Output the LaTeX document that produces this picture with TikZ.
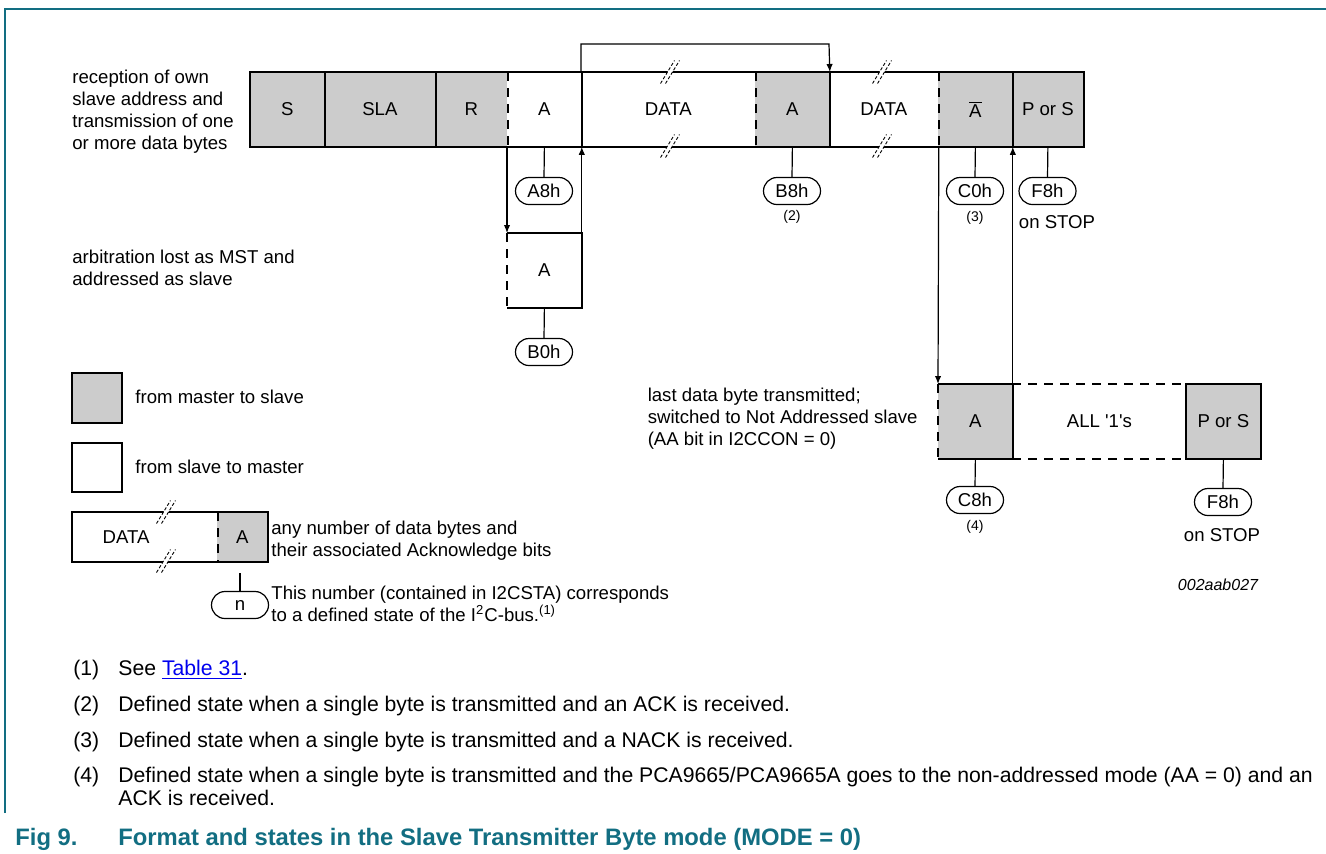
\documentclass[tikz,border=0pt]{standalone}
\usepackage{fontspec}
\setmainfont{Liberation Sans}
\usetikzlibrary{arrows.meta,shapes.misc}
\definecolor{boxgray}{RGB}{204,204,204}
\definecolor{nxpteal}{RGB}{18,110,130}
\definecolor{linkblue}{RGB}{0,0,238}
\newcommand{\sqt}{\XeTeXglyph\XeTeXcharglyph"0027\relax}
\newcommand{\brkmark}[2]{%
  \fill[white] ({#1-9.5},{#2+11.5}) -- ({#1+4.5},{#2-11.5}) -- ({#1+9.5},{#2-11.5}) -- ({#1-4.5},{#2+11.5}) -- cycle;
  \draw[brk] ({#1-9.5},{#2+11.5}) -- ({#1+4.5},{#2-11.5});
  \draw[brk] ({#1-4.5},{#2+11.5}) -- ({#1+9.5},{#2-11.5});
}
\begin{document}
\begin{tikzpicture}[x=0.5pt,y=-0.5pt, font=\fontsize{9.3}{11}\selectfont,
 cell/.style={rectangle, inner sep=0pt, minimum height=37pt, anchor=north west},
 gcell/.style={cell, fill=boxgray},
 wcell/.style={cell, fill=white},
 bord/.style={line width=1.3pt},
 dsh/.style={line width=1.3pt, dash pattern=on 4.5pt off 3.5pt},
 thinl/.style={line width=0.6pt},
 arr/.style={line width=0.6pt, -{Latex[length=4pt,width=3.2pt]}},
 pill/.style={rounded rectangle, draw, line width=0.6pt, minimum width=28.5pt, minimum height=13.5pt, inner sep=0pt},
 note/.style={font=\fontsize{7}{8}\selectfont, inner sep=0pt},
 lbl/.style={align=left, inner sep=0pt},
 brk/.style={line width=0.45pt, dash pattern=on 1.6pt off 1pt},
 fn/.style={font=\fontsize{10.6}{11.6}\selectfont, inner sep=0pt, anchor=base west},
 captxt/.style={font=\fontsize{11.9}{13}\selectfont\bfseries, text=nxpteal, inner sep=0pt, anchor=base west},
]
\useasboundingbox (0,0) rectangle (1326,853);
% frame
\draw[nxpteal, line width=0.8pt] (5,813) -- (5,9) -- (1326,9);

% ---- top row
\node[gcell, minimum width=37pt] (s) at (250,72) {S};
\node[gcell, minimum width=55.5pt] (sla) at (324,72) {SLA};
\node[gcell, minimum width=36pt] (r) at (435,72) {R};
\node[wcell, minimum width=37pt] (a) at (507,72) {A};
\node[wcell, minimum width=87pt] (data) at (581,72) {DATA};
\node[gcell, minimum width=37pt] (a2) at (755,72) {A};
\node[wcell, minimum width=54.5pt] (data2) at (829,72) {DATA};
\node[gcell, minimum width=37pt] (abar) at (938,72) {$\overline{\hbox{A}}$};
\node[gcell, minimum width=35.5pt] (pors) at (1012,72) {P or S};
\draw[bord] (s.north west) rectangle (pors.south east);
\foreach \n in {s,sla,a,a2,abar} \draw[bord] (\n.north east) -- (\n.south east);
\foreach \n in {r,data,data2} \draw[dsh] (\n.north east) -- (\n.south east);
\brkmark{670}{72}
\brkmark{670}{146}
\brkmark{882}{72}
\brkmark{882}{146}

\node[pill] (pA8) at (544,191) {A8h};
\node[pill] (pB8) at (792,191) {B8h};
\node[pill] (pC0) at (975,191) {C0h};
\node[pill] (pF8) at (1047.5,191) {F8h};
\draw[thinl] (a.south) -- (pA8.north);
\draw[thinl] (a2.south) -- (pB8.north);
\draw[thinl] (abar.south) -- (pC0.north);
\draw[thinl] (pors.south) -- (pF8.north);
\node[note] (n2) at (792,217) {(2)};
\node[note] (n3) at (975,218) {(3)};
\node[inner sep=0pt] (stop1) at (1057,222) {on STOP};

% ---- arbitration
\node[wcell, minimum width=37pt] (ab) at (507,233) {A};
\draw[bord] (ab.north west) -- (ab.north east) -- (ab.south east) -- (ab.south west);
\draw[dsh] (ab.north west) -- (ab.south west);
\node[pill] (pB0) at (544,352) {B0h};
\draw[thinl] (ab.south) -- (pB0.north);

\draw[arr] (a.south west) -- (ab.north west);
\draw[arr] (ab.north east) -- (a.south east);
\coordinate (loop) at (829,44);
\draw[arr] (data.north west) |- (loop) -- (a2.north east);

% ---- bottom right
\node[gcell, minimum width=37pt] (ba) at (938,384) {A};
\node[wcell, minimum width=87pt] (all) at (1012,384) {ALL \sqt1\sqt s};
\node[gcell, minimum width=37pt] (pors2) at (1186,384) {P or S};
\draw[bord] (ba.north west) -- (ba.north east) -- (ba.south east) -- (ba.south west);
\draw[dsh] (ba.north west) -- (ba.south west);
\draw[dsh] (all.north west) -- (all.north east);
\draw[dsh] (all.south west) -- (all.south east);
\draw[bord] (pors2.north west) rectangle (pors2.south east);
\node[pill] (pC8) at (975,500) {C8h};
\node[pill] (pF8b) at (1223,502) {F8h};
\draw[thinl] (ba.south) -- (pC8.north);
\draw[thinl] (pors2.south) -- (pF8b.north);
\node[note] (n4) at (975,527) {(4)};
\node[inner sep=0pt] (stop2) at (1222,535) {on STOP};
\node[inner sep=0pt, font=\fontsize{8}{9}\selectfont\itshape] (id) at (1218,585) {002aab027};

\draw[arr] (data2.south east) -- (ba.north west);
\draw[arr] (ba.north east) -- (abar.south east);

% ---- labels
\node[lbl, anchor=west] (l1) at (72,112) {reception of own\\slave address and\\transmission of one\\or more data bytes};
\node[lbl, anchor=west] (l2) at (72,268) {arbitration lost as MST and\\addressed as slave};
\node[lbl, anchor=east] (l3) at (918,419) {last data byte transmitted;\\switched to Not Addressed slave\\(AA bit in I2CCON = 0)};

% ---- legend
\node[gcell, minimum width=24.5pt, minimum height=24.5pt] (lg) at (72,373) {};
\draw[bord] (lg.north west) rectangle (lg.south east);
\node[lbl, anchor=west] (lgt) at (135,397) {from master to slave};
\node[wcell, minimum width=24.5pt, minimum height=24pt] (lw) at (72,443) {};
\draw[bord] (lw.north west) rectangle (lw.south east);
\node[lbl, anchor=west] (lwt) at (135,467) {from slave to master};
\node[wcell, minimum width=72.5pt, minimum height=24.5pt] (ld) at (72,512) {};
\node[gcell, minimum width=25pt, minimum height=24.5pt] (la) at (217,512) {A};
\node[inner sep=0pt] (ldt) at (126,537) {DATA};
\draw[bord] (ld.north west) rectangle (la.south east);
\draw[dsh] (ld.north east) -- (ld.south east);
\brkmark{166}{512}
\brkmark{166}{561}
\node[lbl, anchor=west] (lat) at (271,541) {any number of data bytes and\\their associated Acknowledge bits};
\coordinate (nst) at (240,573);
\node[pill] (pn) at (240,605) {n};
\draw[thinl] (nst) -- (pn.north);
\node[lbl, anchor=west] (lnt) at (271,604) {This number (contained in I2CSTA) corresponds\\to a defined state of the I\textsuperscript{2}C-bus.\textsuperscript{(1)}};

% ---- footnotes
\node[fn] (f1n) at (73,675.5) {(1)};
\node[fn] (f1) at (118,675.5) {See \textcolor{linkblue}{\underline{Table 31}}.};
\node[fn] (f2n) at (73,711.5) {(2)};
\node[fn] (f2) at (118,711.5) {Defined state when a single byte is transmitted and an ACK is received.};
\node[fn] (f3n) at (73,747.5) {(3)};
\node[fn] (f3) at (118,747.5) {Defined state when a single byte is transmitted and a NACK is received.};
\node[fn] (f4n) at (73,782.5) {(4)};
\node[fn] (f4) at (118,782.5) {Defined state when a single byte is transmitted and the PCA9665/PCA9665A goes to the non-addressed mode (AA = 0) and an};
\node[fn] (f4b) at (118,805.5) {ACK is received.};

% ---- caption
\node[captxt] (c1) at (15,845) {Fig 9.};
\node[captxt] (c2) at (118,845) {Format and states in the Slave Transmitter Byte mode (MODE = 0)};
\end{tikzpicture}
\end{document}
